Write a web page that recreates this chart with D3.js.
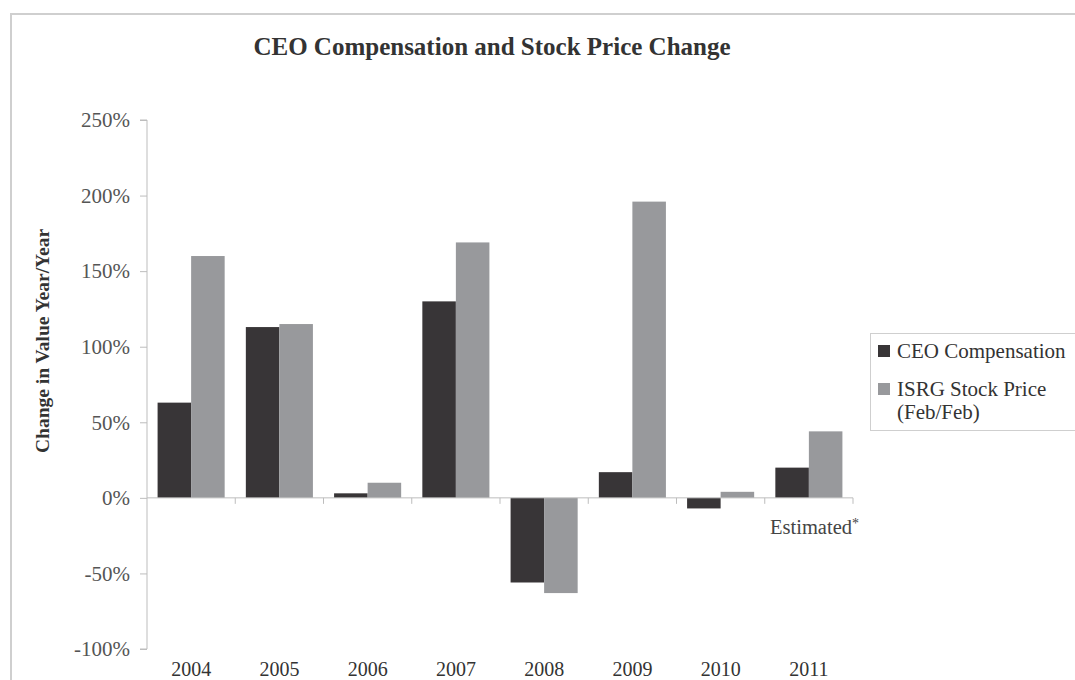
<!DOCTYPE html>
<html>
<head>
<meta charset="utf-8">
<script src="https://cdn.jsdelivr.net/npm/d3@7"></script>
<style>
  body { margin: 0; background: #fff; }
  svg text { font-family: "Liberation Serif", "DejaVu Serif", serif; }
</style>
</head>
<body>
<div id="chart"></div>
<script>
// data
let years = ['2004','2005','2006','2007','2008','2009','2010','2011']
let ceoComp = [63, 113, 3, 130, -56, 17, -7, 20]
let stockPrice = [160, 115, 10, 169, -63, 196, 4, 44]
let yTicks = [-100, -50, 0, 50, 100, 150, 200, 250]
let seriesNames = ['CEO Compensation', 'ISRG Stock Price']

let W = 1075, H = 680
let colors = ['#383537', '#98999c']

let svg = d3.select('#chart').append('svg').attr('width', W).attr('height', H)

// outer frame (runs off the right/bottom edge)
svg.append('path')
    .attr('d', 'M11 ' + (H + 5) + ' L11 14 L' + (W + 5) + ' 14')
    .attr('fill', 'none')
    .attr('stroke', '#cfcfcf')
    .attr('stroke-width', 2)

let plot = {left: 147, right: 853, top: 120, bottom: 649}

let xScale = d3.scaleBand()
    .domain(years)
    .range([plot.left, plot.right])
    .paddingInner(0.24)
    .paddingOuter(0.12)

let xFull = d3.scaleBand().domain(years).range([plot.left, plot.right])

let xSub = d3.scaleBand()
    .domain([0, 1])
    .range([0, xScale.bandwidth()])

let yScale = d3.scaleLinear()
    .domain([-100, 250])
    .range([plot.bottom, plot.top])

// title
svg.append('text')
    .attr('x', 492)
    .attr('y', 55)
    .attr('text-anchor', 'middle')
    .attr('font-size', 25)
    .attr('font-weight', 'bold')
    .attr('fill', '#333')
    .text('CEO Compensation and Stock Price Change')

// y label
svg.append('text')
    .attr('transform', 'translate(49,341) rotate(-90)')
    .attr('text-anchor', 'middle')
    .attr('font-size', 19.5)
    .attr('font-weight', 'bold')
    .attr('fill', '#333')
    .text('Change in Value Year/Year')

// y axis
let yAxis = d3.axisLeft(yScale)
    .tickValues(yTicks)
    .tickSize(7)
    .tickPadding(10)
    .tickFormat(d => d + '%')

let yg = svg.append('g')
    .attr('transform', 'translate(' + plot.left + ',0)')
    .call(yAxis)
yg.select('.domain').attr('stroke', '#bdbdbd').attr('d', 'M-7,' + plot.top + 'H0V' + plot.bottom + 'H-7')
yg.selectAll('.tick line').attr('stroke', '#bdbdbd')
yg.selectAll('.tick text')
    .attr('font-family', '"Liberation Serif", serif')
    .attr('font-size', 21)
    .attr('fill', '#555')

// bars
let rows = years.map((y, i) => ({year: y, vals: [ceoComp[i], stockPrice[i]]}))

let groups = svg.append('g')
    .selectAll('g')
    .data(rows)
    .enter()
    .append('g')
    .attr('transform', d => 'translate(' + xScale(d.year) + ',0)')

groups.selectAll('rect')
    .data(d => d.vals.map((v, k) => ({k: k, v: v})))
    .enter()
    .append('rect')
    .attr('x', d => xSub(d.k))
    .attr('width', xSub.bandwidth())
    .attr('y', d => yScale(Math.max(0, d.v)))
    .attr('height', d => Math.abs(yScale(d.v) - yScale(0)))
    .attr('fill', d => colors[d.k])

// x axis at zero, ticks between categories
let y0 = yScale(0)
let xg = svg.append('g')
xg.append('line')
    .attr('x1', plot.left).attr('x2', plot.right)
    .attr('y1', y0).attr('y2', y0)
    .attr('stroke', '#bdbdbd')
xg.selectAll('.sep')
    .data(years)
    .enter()
    .append('line')
    .attr('x1', d => xFull(d) + xFull.bandwidth())
    .attr('x2', d => xFull(d) + xFull.bandwidth())
    .attr('y1', y0).attr('y2', y0 + 6)
    .attr('stroke', '#bdbdbd')

// year labels at the bottom
svg.append('g')
    .selectAll('text')
    .data(years)
    .enter()
    .append('text')
    .attr('x', d => xFull(d) + xFull.bandwidth() / 2)
    .attr('y', 676)
    .attr('text-anchor', 'middle')
    .attr('font-size', 20)
    .attr('fill', '#333')
    .text(d => d)

let est = svg.append('text')
    .attr('x', 859)
    .attr('y', 534)
    .attr('text-anchor', 'end')
    .attr('font-size', 20.5)
    .attr('fill', '#444')
est.append('tspan').text('Estimated')
est.append('tspan').attr('font-size', 14).attr('dy', -6).text('*')

// legend
let lg = svg.append('g')
lg.append('rect')
    .attr('x', 870.5).attr('y', 333.5)
    .attr('width', 230).attr('height', 97)
    .attr('fill', '#fff')
    .attr('stroke', '#cfcfcf')

let legendRows = [
    {y: 345, lines: [seriesNames[0]]},
    {y: 383, lines: [seriesNames[1], '(Feb/Feb)']}
]
legendRows.forEach((r, i) => {
    lg.append('rect')
        .attr('x', 878).attr('y', r.y)
        .attr('width', 12).attr('height', 12)
        .attr('fill', colors[i])
    let t = lg.append('text')
        .attr('x', 897).attr('y', r.y + 13)
        .attr('font-size', 21)
        .attr('fill', '#333')
    r.lines.forEach((l, j) => {
        t.append('tspan').attr('x', 897).attr('dy', j ? 23 : 0).text(l)
    })
})
</script>
</body>
</html>
